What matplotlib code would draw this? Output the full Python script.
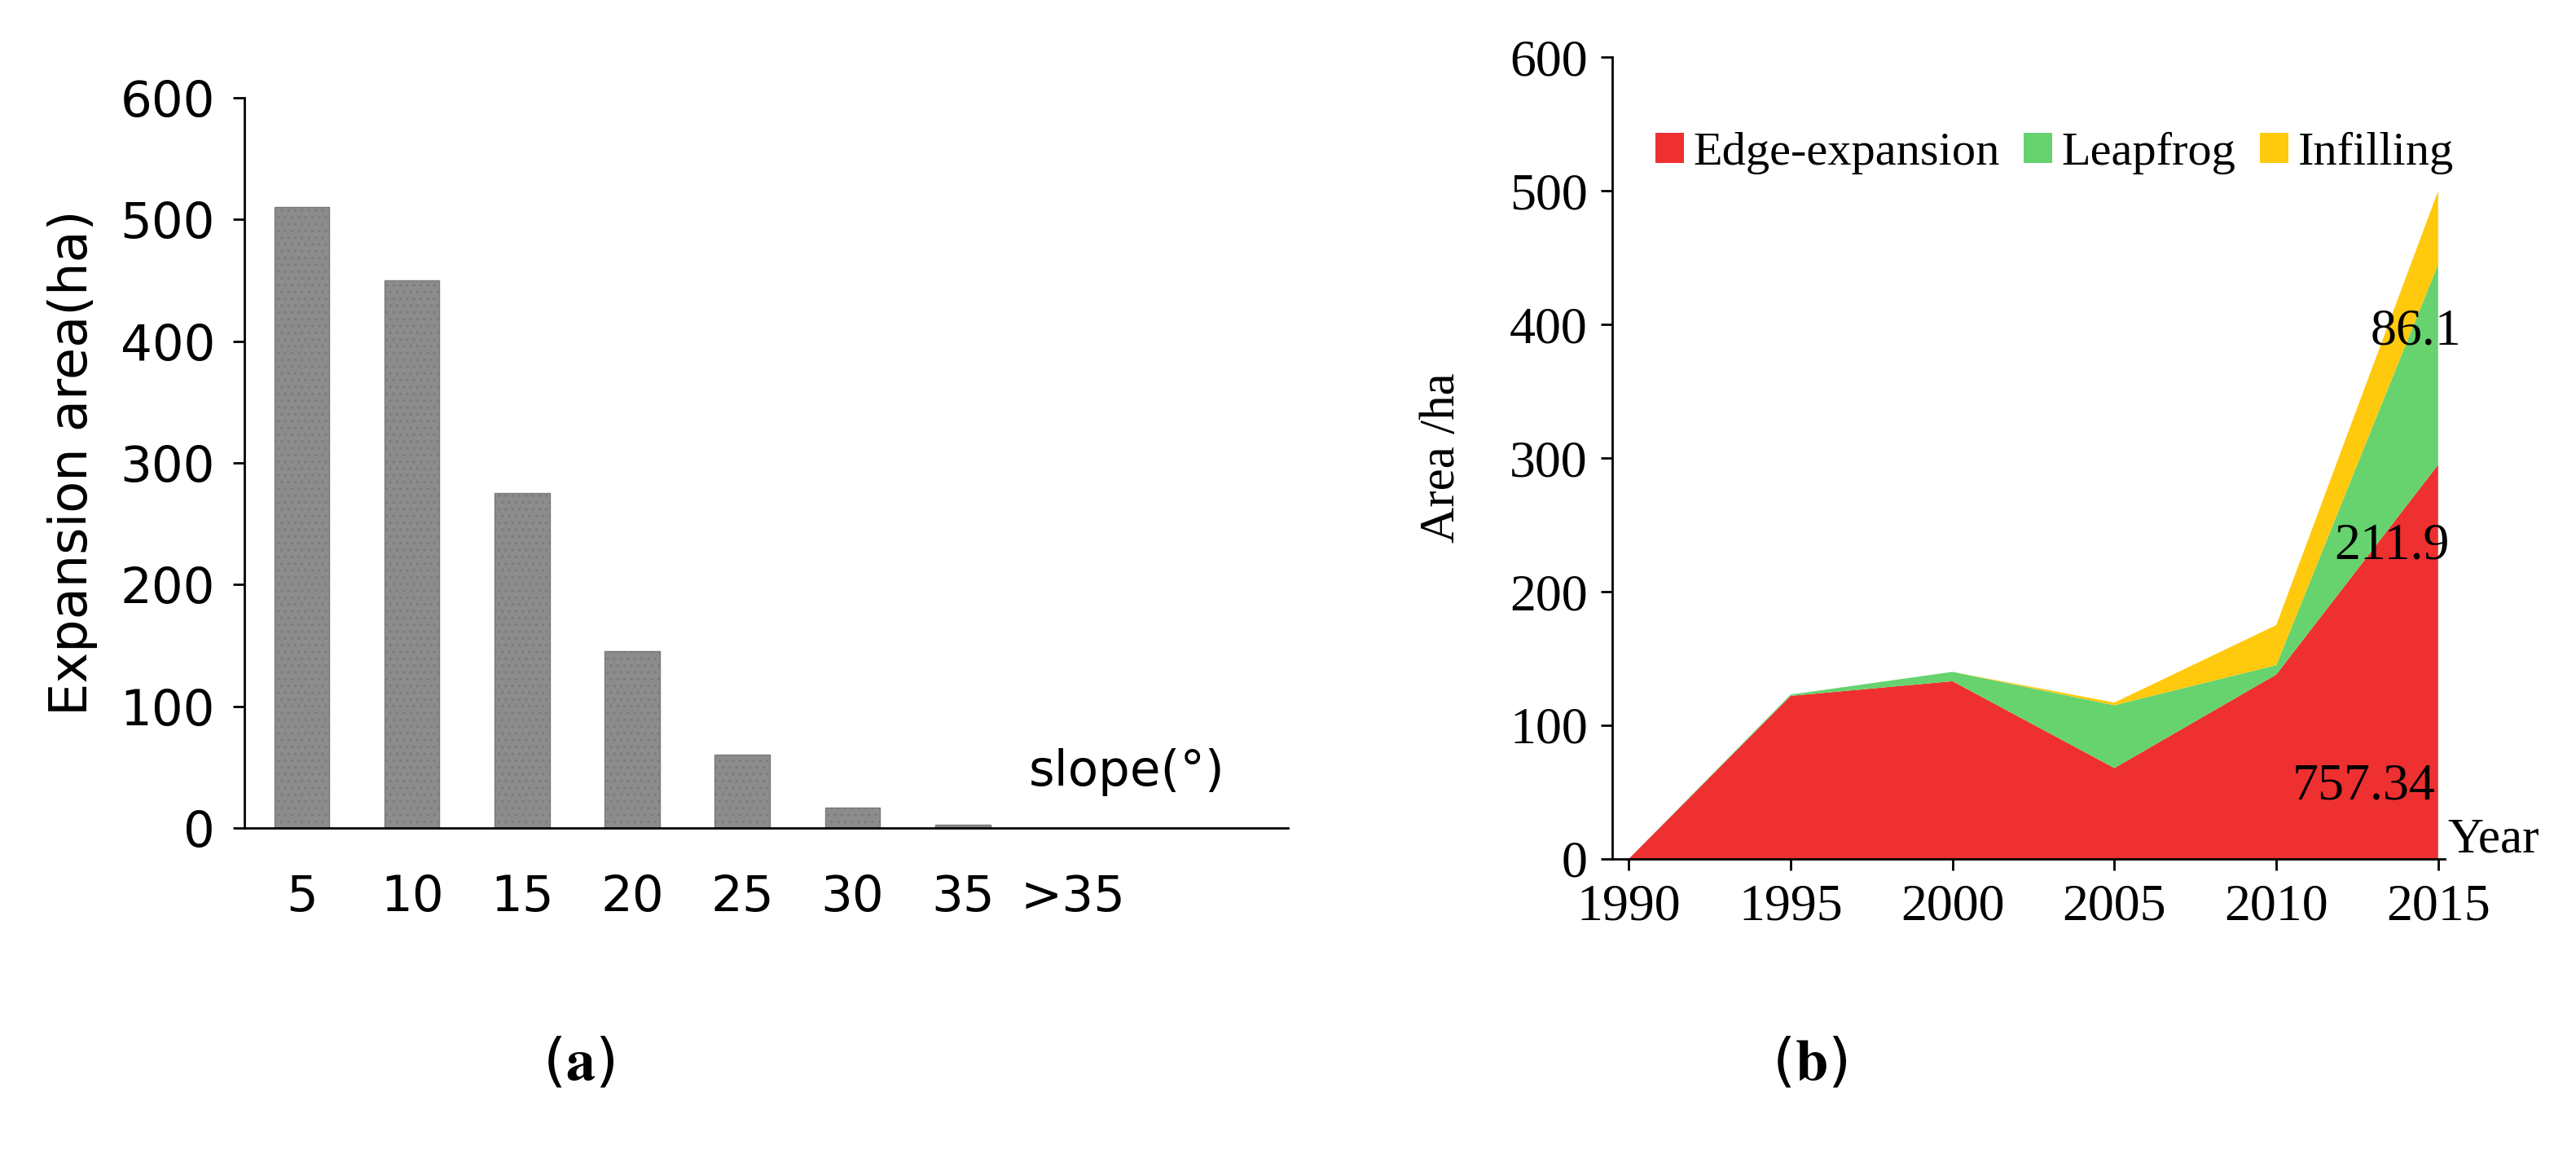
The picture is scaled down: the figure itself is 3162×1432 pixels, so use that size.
import matplotlib
matplotlib.use("Agg")
import matplotlib.pyplot as plt

slope_labels = ["5", "10", "15", "20", "25", "30", "35", ">35"]
slope_area = [510, 450, 275, 145, 60, 17, 3, 0]

years = [1990, 1995, 2000, 2005, 2010, 2015]
edge = [0, 122, 133, 68, 138, 295]
leapfrog = [0, 1, 7, 47, 7, 150]
infilling = [0, 0, 0, 2, 30, 55]

plt.rcParams["mathtext.fontset"] = "stix"
fig = plt.figure(figsize=(31.62, 14.32), dpi=100)

# (a) slope histogram
ax1 = fig.add_axes([0.0949, 0.2905, 0.405, 0.6257])
x = range(len(slope_labels))
ax1.bar(x, slope_area, width=0.5, color="#8c8c8c", edgecolor="#7a7a7a", hatch="..")
ax1.set_xlim(-0.52, 8.95)
ax1.set_ylim(0, 600)
ax1.set_yticks(range(0, 601, 100))
ax1.set_xticks(list(x))
ax1.set_xticklabels(slope_labels)
ax1.tick_params(axis="x", length=0, pad=40, labelsize=44)
ax1.tick_params(axis="y", labelsize=44, length=10, width=2, pad=16)
for s in ("top", "right"):
    ax1.spines[s].set_visible(False)
for s in ("left", "bottom"):
    ax1.spines[s].set_linewidth(2)
ax1.set_ylabel("Expansion area(ha)", fontsize=46, labelpad=20)
ax1.text(6.6, 35, "slope(°)", fontsize=44)

# (b) expansion types
ax2 = fig.add_axes([0.626, 0.264, 0.323, 0.687])
ax2.stackplot(years, edge, leapfrog, infilling,
              colors=["#ee3030", "#66d36e", "#ffc90e"],
              labels=["Edge-expansion", "Leapfrog", "Infilling"])
ax2.set_xlim(1989.5, 2015.2)
ax2.set_ylim(0, 600)
ax2.set_xticks(years)
ax2.set_yticks(range(0, 601, 100))
serif = "Liberation Serif"
for lab in ax2.get_xticklabels() + ax2.get_yticklabels():
    lab.set_family(serif)
    lab.set_fontsize(46)
ax2.tick_params(axis="both", length=10, width=2, pad=12)
for s in ("top", "right"):
    ax2.spines[s].set_visible(False)
for s in ("left", "bottom"):
    ax2.spines[s].set_linewidth(2)
ax2.set_ylabel("Area /ha", family=serif, fontsize=44, labelpad=40)
ax2.legend(loc="upper left", bbox_to_anchor=(0.0, 0.96), ncol=3, frameon=False,
           prop={"family": serif, "size": 42}, handlelength=0.6, handleheight=0.6,
           columnspacing=0.5, handletextpad=0.2)
ax2.text(2015.3, 5, "Year", family=serif, fontsize=44)
ax2.text(2012.9, 385, "86.1", family=serif, fontsize=46)
ax2.text(2011.8, 225, "211.9", family=serif, fontsize=46)
ax2.text(2010.5, 45, "757.34", family=serif, fontsize=46)

fig.text(0.2245, 0.075, r"($\mathbf{a}$)", fontsize=52, ha="center")
fig.text(0.7025, 0.075, r"($\mathbf{b}$)", fontsize=52, ha="center")

fig.savefig("out.png", dpi=100, facecolor="white")
